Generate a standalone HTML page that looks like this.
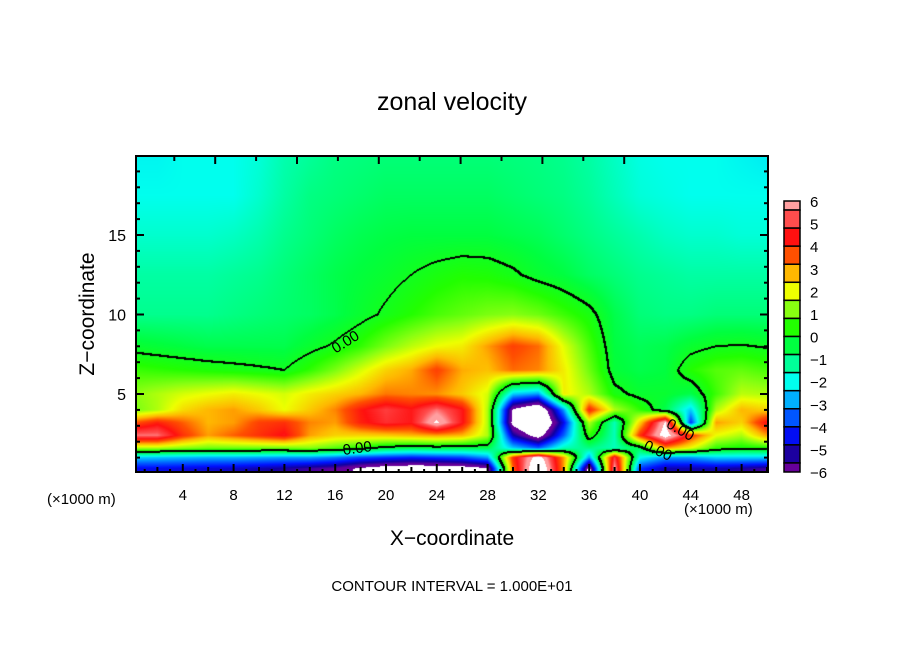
<!DOCTYPE html>
<html><head><meta charset="utf-8">
<style>
html,body{margin:0;padding:0;background:#fff;}
#root{position:relative;width:904px;height:654px;overflow:hidden;font-family:"Liberation Sans","DejaVu Sans",sans-serif;color:#000;}
.t{position:absolute;white-space:nowrap;}
canvas{position:absolute;left:136px;top:156px;}
svg{position:absolute;left:0;top:0;}
</style></head>
<body>
<div id="root">
<canvas id="field" width="632" height="316"></canvas>
<svg id="ov" width="904" height="654"></svg>
<div class="t" style="left:0;width:904px;text-align:center;top:88px;font-size:25px;">zonal velocity</div>
<div class="t" style="left:88px;top:314px;font-size:21px;transform:translate(-50%,-50%) rotate(-90deg);">Z−coordinate</div>
<div class="t" style="left:0;width:904px;text-align:center;top:527px;font-size:21px;">X−coordinate</div>
<div class="t" style="left:47px;top:491px;font-size:15px;">(×1000 m)</div>
<div class="t" style="left:684px;top:501px;font-size:15px;">(×1000 m)</div>
<div class="t" style="left:0;width:904px;text-align:center;top:578px;font-size:15px;">CONTOUR INTERVAL = 1.000E+01</div>
</div>
<script>
// ---- data ----
var xCoords = [0,2,4,6,8,10,12,14,16,18,20,22,24,26,28,30,32,34,36,38,40,42,44,46,48,50];
var zLevels = [0.3,1.0,1.6,2.4,3.2,4,5,6.5,8,10,12.5,15,17.5,20];
var row0 = [-4.5,-4.5,-4.6,-4.7,-4.8,-5,-5.2,-5.5,-5.8,-6.5,-7,-7.2,-7.2,-7,-6.5,3.5,8,3.0,-7,6,-4,-5,-5,-5,-5.2,-5.5];
var row1 = [-2.5,-2.6,-2.7,-2.8,-2.8,-2.9,-3.0,-3.0,-3.3,-3.8,-4.0,-4.2,-4.0,-3.8,-3.0,4.0,7,3,-3,5,-2,-3,-3,-2.5,-2.5,-2.5];
var row2 = [1.5,1.5,1.2,1.0,1.0,1.0,1.0,1.2,0.8,0.3,-0.3,-0.5,-0.4,-0.5,-0.5,-2.5,-3.5,-1.5,-1.0,-1.5,-0.5,3.0,2.0,0.5,0.2,0.3];
var row3 = [5.5,5.5,4.0,3.0,3.5,4.0,4.5,3.0,2.5,2.5,2.6,2.8,3.0,2.8,1.5,-5,-7,-3.5,0.5,-1.5,4.0,7,4.0,2.0,1.5,3.0];
var row4 = [3.5,4.2,3.5,2.8,3.0,3.8,4.0,3.2,3.0,4.2,4.8,4.5,6.5,4.5,1.5,-6.8,-8.5,-4.5,1.5,-1.5,2.5,6.5,-4,3.0,2.5,4.5];
var row5 = [1.0,1.5,2.4,2.8,3.0,2.6,2.0,2.6,3.2,4.3,5.0,4.5,5.5,4.5,1.5,-6.5,-8,-3,4.2,1.5,0.5,-0.5,-2.5,1.5,2.8,2.5];
var row6 = [1.2,1.5,1.8,2.0,2.2,2.0,1.8,2.2,2.5,2.8,3.3,3.2,3.1,2.6,1.8,-2.5,-3,2.2,1.5,0.2,-0.2,-0.2,-0.5,0.6,1.6,1.5];
var row7 = [0.6,0.5,0.4,0.3,0.2,0.1,0.0,0.5,1.1,1.8,2.5,2.9,3.8,2.9,2.7,3.4,3.2,2.2,1.0,-0.3,-0.5,-0.4,0.4,0.8,0.9,0.7];
var row8 = [-0.2,-0.3,-0.4,-0.5,-0.5,-0.5,-0.5,-0.2,0.1,0.5,1.1,1.6,2.0,2.2,3.0,3.8,3.4,1.9,0.7,-0.4,-0.6,-0.5,-0.2,0.0,0.05,-0.05];
var row9 = [-1.1,-1.1,-1.1,-1.1,-1.0,-0.9,-0.8,-0.7,-0.5,-0.2,0.1,0.4,0.7,0.9,1.1,1.2,1.0,0.6,0.2,-0.5,-0.9,-1.0,-1.0,-0.9,-0.9,-0.9];
var row10 = [-1.3,-1.3,-1.3,-1.3,-1.2,-1.1,-0.9,-0.7,-0.5,-0.35,-0.2,0,0.2,0.35,0.3,0.1,-0.2,-0.4,-0.7,-0.9,-1.1,-1.2,-1.3,-1.3,-1.3,-1.3];
var row11 = [-1.7,-1.7,-1.7,-1.7,-1.6,-1.4,-1.1,-0.9,-0.7,-0.55,-0.45,-0.4,-0.4,-0.4,-0.4,-0.5,-0.6,-0.8,-1.0,-1.2,-1.4,-1.6,-1.7,-1.7,-1.8,-1.8];
var row12 = [-2,-2,-2,-2,-2,-1.7,-1.3,-1.0,-0.9,-0.8,-0.7,-0.7,-0.7,-0.7,-0.7,-0.8,-0.9,-1.0,-1.2,-1.5,-1.8,-1.9,-2,-2,-2,-2];
var row13 = [-2.1,-2.1,-2,-2,-2,-1.8,-1.4,-1.2,-1.0,-0.95,-0.9,-0.9,-0.9,-0.9,-0.9,-0.95,-1.0,-1.1,-1.3,-1.6,-1.9,-2,-2,-2,-2.1,-2.2];
var fieldRows = [row0,row1,row2,row3,row4,row5,row6,row7,row8,row9,row10,row11,row12,row13];
var xTickLabels = ["4","8","12","16","20","24","28","32","36","40","44","48"];
var xTickValues = [4,8,12,16,20,24,28,32,36,40,44,48];
var zTickValues = [5,10,15];
var colorbarLabels = ["6","5","4","3","2","1","0","−1","−2","−3","−4","−5","−6"];
var colorbarValues = [6,5,4,3,2,1,0,-1,-2,-3,-4,-5,-6];
var cmapValues = [-5.8,-5.1,-4.3,-3.5,-2.7,-2.0,-1.2,-0.4,0.4,1.2,2.0,2.8,3.6,4.4,5.2,5.8];
var cmapColors = ["#660099","#1000a0","#0010ff","#0060ff","#00bbff","#00ffee","#00ff99","#00ff40","#22ff00","#88ff11","#eeff00","#ffb800","#ff5000","#ff1010","#ff4d4d","#ff9fa0"];

// ---- axes ----
var PL=136,PT=156,PW=632,PH=316;
function xs(x){return 132+12.7*x;}
function zs(z){return 473.5-15.9*z;}
function hex(c){return [parseInt(c.substr(1,2),16),parseInt(c.substr(3,2),16),parseInt(c.substr(5,2),16)];}
var cmapRGB=cmapColors.map(hex);
function color(v){
  if(v>6.3||v<-6.3) return [255,255,255];
  if(v<=cmapValues[0]) return cmapRGB[0];
  var n=cmapValues.length;
  if(v>=cmapValues[n-1]) return cmapRGB[n-1];
  for(var i=0;i<n-1;i++){ if(v<=cmapValues[i+1]){var t=(v-cmapValues[i])/(cmapValues[i+1]-cmapValues[i]);var a=cmapRGB[i],b=cmapRGB[i+1];return [a[0]+(b[0]-a[0])*t,a[1]+(b[1]-a[1])*t,a[2]+(b[2]-a[2])*t];}}
}
function sample(x,z){
  var nx=xCoords.length, nz=zLevels.length;
  var i=0; while(i<nx-2 && x>xCoords[i+1]) i++;
  var j=0; while(j<nz-2 && z>zLevels[j+1]) j++;
  var tx=(x-xCoords[i])/(xCoords[i+1]-xCoords[i]); tx=Math.max(0,Math.min(1,tx));
  var tz=(z-zLevels[j])/(zLevels[j+1]-zLevels[j]); tz=Math.max(0,Math.min(1,tz));
  var a=fieldRows[j][i],b=fieldRows[j][i+1],c=fieldRows[j+1][i],d=fieldRows[j+1][i+1];
  return (a*(1-tx)+b*tx)*(1-tz)+(c*(1-tx)+d*tx)*tz;
}
var cv=document.getElementById('field'),ctx=cv.getContext('2d');
var img=ctx.createImageData(PW,PH),vals=new Float32Array(PW*PH);
for(var py=0;py<PH;py++){for(var px=0;px<PW;px++){
  var x=(PL+px+0.5-132)/12.7, z=(473.5-(PT+py+0.5))/15.9;
  var v=sample(x,z); vals[py*PW+px]=v;
  var c=color(v),k=(py*PW+px)*4;
  img.data[k]=c[0];img.data[k+1]=c[1];img.data[k+2]=c[2];img.data[k+3]=255;
}}
// zero contour
for(var py=0;py<PH-1;py++){for(var px=0;px<PW-1;px++){
  var v=vals[py*PW+px],r=vals[py*PW+px+1],d=vals[(py+1)*PW+px];
  if((v>=0)!==(r>=0)||(v>=0)!==(d>=0)){
    [[0,0],[1,0],[0,1]].forEach(function(o){var k=((py+o[1])*PW+px+o[0])*4;img.data[k]=0;img.data[k+1]=0;img.data[k+2]=0;});
  }
}}
ctx.putImageData(img,0,0);

var NS='http://www.w3.org/2000/svg',ov=document.getElementById('ov');
function el(tag,attrs){var e=document.createElementNS(NS,tag);for(var k in attrs)e.setAttribute(k,attrs[k]);ov.appendChild(e);return e;}
var fr=el('rect',{x:PL,y:PT,width:PW,height:PH,fill:'none',stroke:'#000','stroke-width':2});


for(var x=1;x<=50;x++){
  var X=xs(x); if(X<=PL||X>=PL+PW) continue;
  var L=(x%4===0)?8:(x%2===0?5:3);
  var tk=el('line',{x1:X,y1:PT+PH,x2:X,y2:PT+PH-L,stroke:'#000','stroke-width':2});
  
  
}
for(var i=0;i<12;i++){
  var X=174.3+40.9*i, L=(i%2===1)?8:5;
  var tt=el('line',{x1:X,y1:PT,x2:X,y2:PT+L,stroke:'#000','stroke-width':2});
  
  
}
xTickValues.forEach(function(v,i){
  var t=el('text',{x:xs(v),y:500,'text-anchor':'middle','font-size':15,'font-family':'Liberation Sans, sans-serif'});
  t.textContent=xTickLabels[i];
  
  
});
for(var z=1;z<20;z++){
  var Y=zs(z), L=(z%5===0)?8:4;
  var a=el('line',{x1:PL,y1:Y,x2:PL+L,y2:Y,stroke:'#000','stroke-width':2});
  
  
  var b=el('line',{x1:PL+PW,y1:Y,x2:PL+PW-L,y2:Y,stroke:'#000','stroke-width':2});
  
  
}
zTickValues.forEach(function(v){
  var t=el('text',{x:126,y:zs(v)+6,'text-anchor':'end','font-size':16,'font-family':'Liberation Sans, sans-serif'});
  t.textContent=String(v);
  
  
});
[[348,346,-32],[358,453,-8],[678,434,30],[656,455,25]].forEach(function(p){
  var t=el('text',{x:p[0],y:p[1],'text-anchor':'middle','font-size':15,'font-family':'Liberation Sans, sans-serif',transform:'rotate('+p[2]+' '+p[0]+' '+p[1]+')'});
  t.textContent='0.00';
  
  
});
var cbTop=201,cbBot=472;
function cy(v){return cbTop+(6-v)*(cbBot-cbTop)/12;}
var bounds=[6,5.6,4.8,4,3.2,2.4,1.6,0.8,0,-0.8,-1.6,-2.4,-3.2,-4,-4.8,-5.6,-6];
for(var i=0;i<bounds.length-1;i++){
  var mid=(bounds[i]+bounds[i+1])/2,c=color(Math.max(-5.8,Math.min(5.8,mid)));
  var r=el('rect',{x:784,y:cy(bounds[i]),width:16,height:cy(bounds[i+1])-cy(bounds[i]),fill:'rgb('+Math.round(c[0])+','+Math.round(c[1])+','+Math.round(c[2])+')',stroke:'#000','stroke-width':1.5});
  
  
}
colorbarValues.forEach(function(v,i){
  var t=el('text',{x:810,y:cy(v)+6,'font-size':15,'font-family':'Liberation Sans, sans-serif'});
  t.textContent=colorbarLabels[i];
  
  
});
</script>
</body></html>
